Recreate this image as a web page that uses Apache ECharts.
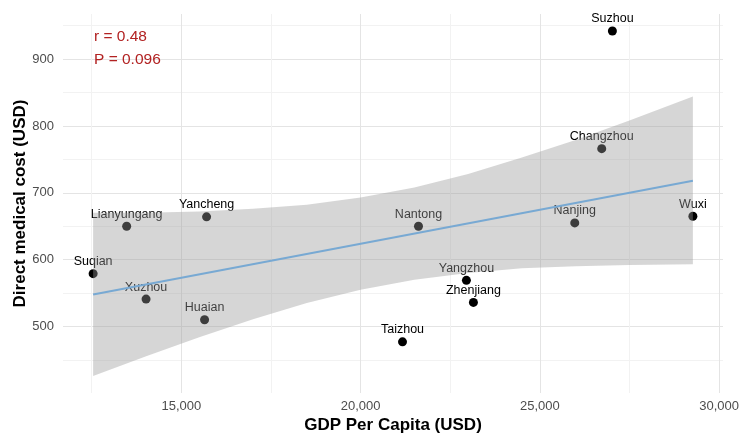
<!DOCTYPE html>
<html><head><meta charset="utf-8">
<script src="https://cdn.jsdelivr.net/npm/echarts@6/dist/echarts.min.js"></script>
<style>html,body{margin:0;padding:0;background:#fff;} #c{width:750px;height:441px;}</style>
</head><body><div id="c"></div>
<script>
const cities = ['Suqian','Lianyungang','Xuzhou','Yancheng','Huaian','Taizhou','Nantong','Yangzhou','Zhenjiang','Nanjing','Changzhou','Suzhou','Wuxi'];
const gdpPerCapita = [12540,13476,14017,15705,15649,21170,21616,22953,23148,25975,26727,27025,29270];
const medicalCost = [579,650,541,664,510,477,650,569,536,655,766,942,665];
const fitX = [12540, 29270];
const fitY = [548, 718];
const bandX = [12540,14000,15500,17000,18500,20000,21500,23000,24500,26000,27500,29270];
const bandLower = [426,455,484,511,535,555,570,580,587,590,592,593];
const bandUpper = [670,670,672,676,682,693,708,728,753,779,808,844];
const xMajorTicks = [15000,20000,25000,30000];
const xMinorTicks = [12500,17500,22500,27500];
const yMajorTicks = [500,600,700,800,900];
const yMinorTicks = [450,550,650,750,850,950];
const annotationLines = ['r = 0.48','P = 0.096'];

const FONT = '"Liberation Sans", Arial, Helvetica, sans-serif';
const X_MIN = 11700, X_MAX = 30110, Y_MIN = 400.5, Y_MAX = 967.5;

const chart = echarts.init(document.getElementById('c'), null, {renderer:'canvas'});

function xAxisDef(ticks, major) {
  return {
    type:'value', min:X_MIN, max:X_MAX, position:'bottom',
    axisLine:{show:false},
    axisTick:{show:false, customValues:ticks},
    axisLabel: major ? {customValues:ticks, formatter:v=>Number(v).toLocaleString('en-US'), color:'#4d4d4d', fontSize:13, margin:7, fontFamily:FONT} : {show:false},
    splitLine:{show:true, lineStyle:{color: major ? '#e4e4e4' : '#f2f2f2', width:1}},
    name: major ? 'GDP Per Capita (USD)' : '',
    nameLocation:'middle', nameGap:24, nameMoveOverlap:false,
    nameTextStyle:{fontSize:17, fontWeight:'bold', color:'#000', fontFamily:FONT}
  };
}
function yAxisDef(ticks, major) {
  return {
    type:'value', min:Y_MIN, max:Y_MAX, position:'left',
    axisLine:{show:false},
    axisTick:{show:false, customValues:ticks},
    axisLabel: major ? {customValues:ticks, color:'#4d4d4d', fontSize:13, margin:9, fontFamily:FONT} : {show:false},
    splitLine:{show:true, lineStyle:{color: major ? '#e4e4e4' : '#f2f2f2', width:1}},
    name: major ? 'Direct medical cost (USD)' : '',
    nameLocation:'middle', nameGap:34, nameRotate:90, nameMoveOverlap:false,
    nameTextStyle:{fontSize:17, fontWeight:'bold', color:'#000', fontFamily:FONT}
  };
}

const pointData = gdpPerCapita.map((x,i)=>[x, medicalCost[i], cities[i]]);
const bandPoly = bandX.map((x,i)=>[x, bandUpper[i]]).concat(bandX.map((x,i)=>[x, bandLower[i]]).reverse());

const option = {
  animation:false,
  backgroundColor:'#fff',
  grid:{left:63, right:27, top:14, bottom:48, containLabel:false, outerBoundsMode:'none'},
  xAxis:[xAxisDef(xMajorTicks,true), xAxisDef(xMinorTicks,false)],
  yAxis:[yAxisDef(yMajorTicks,true), yAxisDef(yMinorTicks,false)],
  series:[
    {
      type:'scatter', xAxisIndex:0, yAxisIndex:0, z:2,
      data:pointData, symbolSize:9,
      itemStyle:{color:'#000', opacity:1},
      label:{show:true, position:'top', distance:1, formatter:p=>p.data[2], color:'#000', fontSize:12.5, fontFamily:FONT}
    },
    {
      type:'custom', xAxisIndex:0, yAxisIndex:0, z:3, silent:true,
      data:[[bandX[0], bandLower[0]]],
      renderItem:function(params, api){
        const pts = bandPoly.map(p=>api.coord(p));
        return {type:'polygon', shape:{points:pts}, style:{fill:'rgba(153,153,153,0.4)'}};
      }
    },
    {
      type:'line', xAxisIndex:0, yAxisIndex:0, z:4,
      data:fitX.map((x,i)=>[x, fitY[i]]),
      showSymbol:false, symbol:'none',
      lineStyle:{color:'#78A9D3', width:2}
    }
  ],
  graphic: annotationLines.map((t,i)=>({
    type:'text', x:94, y:37 + i*22.5, z:10,
    style:{text:t, fill:'#B22222', fontSize:15.5, fontFamily:FONT, verticalAlign:'middle', align:'left'}
  }))
};
chart.setOption(option);
</script>
</body></html>
